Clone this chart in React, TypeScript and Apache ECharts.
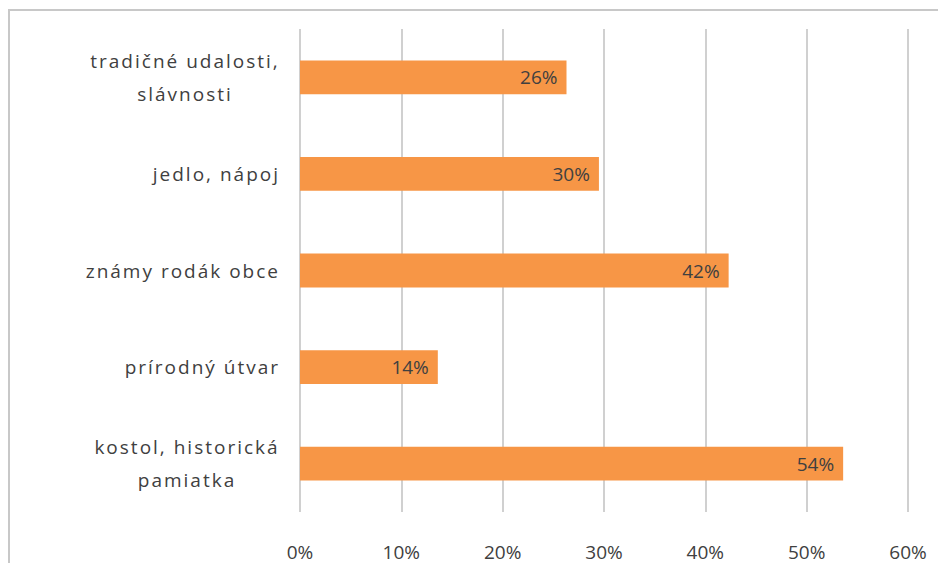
import React, { useEffect, useRef } from "react";
import * as echarts from "echarts";

const categories = [
  "tradičné udalosti,\nslávnosti",
  "jedlo, nápoj",
  "známy rodák obce",
  "prírodný útvar",
  "kostol, historická\npamiatka",
];
const values = [26.3, 29.5, 42.3, 13.6, 53.6];
const tickValues = [0, 10, 20, 30, 40, 50, 60];

const NUM_FONT = "'Open Sans', sans-serif";
const CAT_FONT = "'Open Sans', Lato, sans-serif";
const CAT_SIZE = 19;
const CAT_SPACING = 2;

function measure(text: string): number {
  const c = document.createElement("canvas");
  const ctx = c.getContext("2d");
  if (!ctx) return text.length * 11;
  ctx.font = CAT_SIZE + "px 'Open Sans'";
  return ctx.measureText(text).width + CAT_SPACING * text.length;
}

export default function App() {
  const ref = useRef<HTMLDivElement>(null);
  useEffect(() => {
    if (!ref.current) return;
    const chart = echarts.init(ref.current, null, { renderer: "svg" });
    const rich: Record<string, any> = {};
    const formatted: Record<string, string> = {};
    categories.forEach((cat, i) => {
      if (cat.indexOf("\n") >= 0) {
        const lines = cat.split("\n");
        const w = Math.ceil(Math.max(...lines.map(measure)));
        const key = "c" + i;
        rich[key] = {
          width: w,
          align: "center",
          color: "#404040",
          fontSize: CAT_SIZE,
          fontFamily: CAT_FONT,
          lineHeight: 33,
        };
        formatted[cat] = lines.map((l) => "{" + key + "|" + l + "}").join("\n");
      } else {
        formatted[cat] = cat;
      }
    });
    chart.setOption({
      animation: false,
      backgroundColor: "#ffffff",
      graphic: [
        {
          type: "rect",
          shape: { x: 9, y: 10, width: 960, height: 600 },
          style: { fill: "none", stroke: "#C8C8C8", lineWidth: 2 },
          silent: true,
          z: -1,
        },
      ],
      grid: { left: 300, right: 30, top: 29, bottom: 51, containLabel: false },
      xAxis: {
        type: "value",
        min: tickValues[0],
        max: tickValues[tickValues.length - 1],
        interval: 10,
        axisLine: { show: false },
        axisTick: { show: false },
        splitLine: { show: true, lineStyle: { color: "#D0D0D0", width: 2 } },
        axisLabel: {
          formatter: (v: number) => v + "%",
          color: "#404040",
          fontSize: 19,
          fontFamily: NUM_FONT,
          margin: 30,
        },
      },
      yAxis: {
        type: "category",
        inverse: true,
        data: categories,
        axisLine: { show: false },
        axisTick: { show: false },
        axisLabel: {
          color: "#404040",
          fontSize: CAT_SIZE,
          fontFamily: CAT_FONT,
          margin: 20,
          lineHeight: 33,
          formatter: (v: string) => formatted[v] ?? v,
          rich,
        },
      },
      series: [
        {
          type: "bar",
          data: values,
          barWidth: "35%",
          itemStyle: { color: "#F79646" },
          label: {
            show: true,
            position: "insideRight",
            distance: 9,
            color: "#404040",
            fontSize: 19,
            fontFamily: NUM_FONT,
            formatter: (p: any) => Math.round(p.value) + "%",
          },
        },
      ],
    });
    return () => chart.dispose();
  }, []);
  return (
    <>
      <style>{`.chartbox text[style*="Lato"], .chartbox text[font-family*="Lato"] { letter-spacing: ${CAT_SPACING}px; }`}</style>
      <div
        ref={ref}
        className="chartbox"
        style={{ position: "fixed", left: 0, top: 0, width: 938, height: 563 }}
      />
    </>
  );
}
